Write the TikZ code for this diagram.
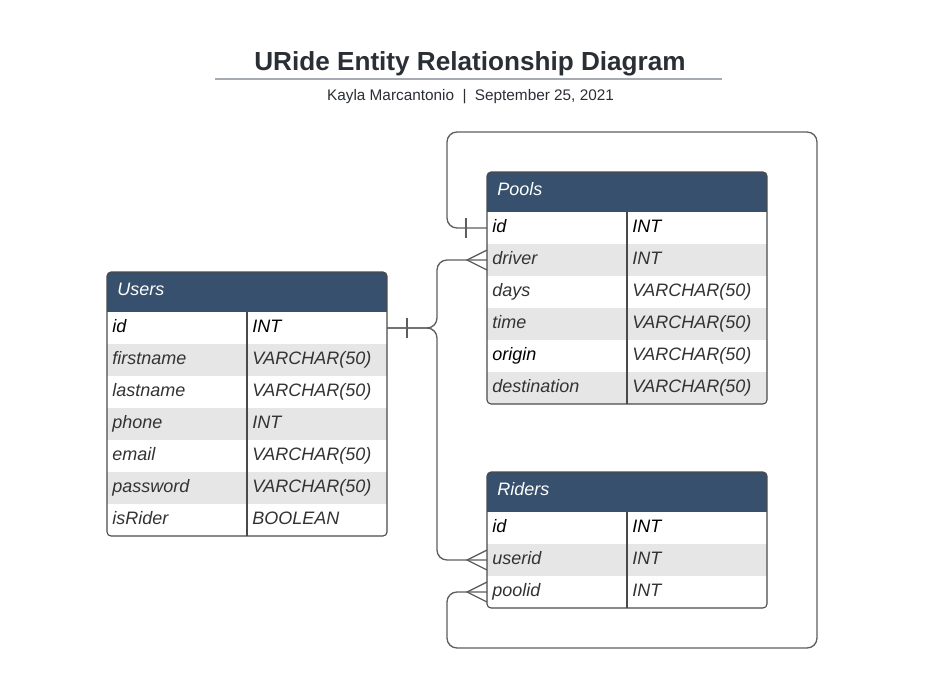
\documentclass[tikz,border=0pt]{standalone}
\usepackage{fontspec}
\setmainfont{Liberation Sans}
\definecolor{hdr}{HTML}{36506E}
\definecolor{rowgray}{HTML}{E6E6E6}
\definecolor{keyc}{HTML}{000000}
\definecolor{txtc}{HTML}{333333}
\definecolor{lncol}{HTML}{5E5E5E}
\definecolor{tblcol}{HTML}{4A4A4A}
\definecolor{titlecol}{HTML}{2A2E35}
\definecolor{rulecol}{HTML}{A6AAB2}
\tikzset{
  cell/.style={anchor=base west, inner sep=0pt, font=\fontsize{13.5}{16}\selectfont\itshape},
  tbl/.style={draw=tblcol, line width=0.8pt},
  conn/.style={draw=lncol, line width=1pt, rounded corners=7.5pt},
  crowfoot/.style={draw=lncol, line width=1pt},
}
\newcommand\ERtable[6]{%
  \pgfmathsetmacro\xr{#2+280}%
  \pgfmathsetmacro\yh{#3+40}%
  \pgfmathsetmacro\yb{#3+40+32*#4}%
  \begin{scope}
    \clip[rounded corners=3pt] (#2,#3) rectangle (\xr,\yb);
    \fill[white] (#2,#3) rectangle (\xr,\yb);
    \fill[hdr] (#2,#3) rectangle (\xr,\yh);
    \foreach \nm/\ty/\nc/\tc [count=\i] in {#6} {
      \ifodd\i\else \fill[rowgray] (#2,{\yh+32*(\i-1)}) rectangle (\xr,{\yh+32*\i}); \fi
    }
  \end{scope}
  \draw[tbl, rounded corners=3pt] (#2,#3) rectangle (\xr,\yb);
  \draw[tbl] ({#2+140},\yh) -- ({#2+140},\yb);
  \node[cell, text=white] (#1-title) at ({#2+10},{#3+23.5}) {#5};
  \foreach \nm/\ty/\nc/\tc [count=\i] in {#6} {
    \node[cell, text=\nc] (#1-n\i) at ({#2+5},{\yh+32*\i-11.5}) {\nm};
    \node[cell, text=\tc] (#1-t\i) at ({#2+145},{\yh+32*\i-11.5}) {\ty};
    \coordinate (#1-w\i) at (#2,{\yh+32*\i-16});
    \coordinate (#1-e\i) at (\xr,{\yh+32*\i-16});
  }
}
\begin{document}
\begin{tikzpicture}[x=0.75pt,y=-0.75pt]
\useasboundingbox (0,0) rectangle (934,688);
% title
\node[inner sep=0pt, anchor=base, text=titlecol, font=\fontsize{19.6}{23}\selectfont\bfseries] (title) at (470,71) {URide Entity Relationship Diagram};
\draw[rulecol, line width=1.5pt] (215,79) coordinate (ruleL) -- (722,79) coordinate (ruleR);
\node[inner sep=0pt, anchor=base, text=titlecol, font=\fontsize{11.5}{13}\selectfont] (subtitle) at (470.5,101) {Kayla Marcantonio\hspace{0.55em}|\hspace{0.55em}September 25, 2021};
% tables
\ERtable{users}{107}{272}{7}{Users}{id/INT/keyc/keyc, firstname/VARCHAR(50)/txtc/txtc, lastname/VARCHAR(50)/txtc/txtc, phone/INT/txtc/txtc, email/VARCHAR(50)/txtc/txtc, password/VARCHAR(50)/txtc/txtc, isRider/BOOLEAN/txtc/txtc}
\ERtable{pools}{487}{172}{6}{Pools}{id/INT/keyc/keyc, driver/INT/txtc/txtc, days/VARCHAR(50)/txtc/txtc, time/VARCHAR(50)/txtc/txtc, origin/VARCHAR(50)/keyc/txtc, destination/VARCHAR(50)/txtc/txtc}
\ERtable{riders}{487}{472}{3}{Riders}{id/INT/keyc/keyc, userid/INT/txtc/txtc, poolid/INT/txtc/txtc}
% loop corners
\coordinate (loopTL) at (447,132);
\coordinate (loopTR) at (817,132);
\coordinate (loopBR) at (817,648);
\coordinate (loopBL) at (447,648);
% connectors
\draw[conn] (users-e1) -- ++(50,0) |- (pools-w2);
\draw[conn] (users-e1) -- ++(50,0) |- (riders-w2);
\draw[conn] (pools-w1) -| (loopTL) -- (loopTR) -- (loopBR) -- (loopBL) |- (riders-w3);
% markers: one
\draw[crowfoot] (users-e1) ++(20,-10) -- ++(0,20);
\draw[crowfoot] (pools-w1) ++(-21,-10) -- ++(0,20);
% markers: many
\draw[crowfoot] (pools-w2) ++(0,-10) -- ++(-20,10) -- ++(20,10);
\draw[crowfoot] (riders-w2) ++(0,-10) -- ++(-20,10) -- ++(20,10);
\draw[crowfoot] (riders-w3) ++(0,-10) -- ++(-20,10) -- ++(20,10);
\end{tikzpicture}
\end{document}
